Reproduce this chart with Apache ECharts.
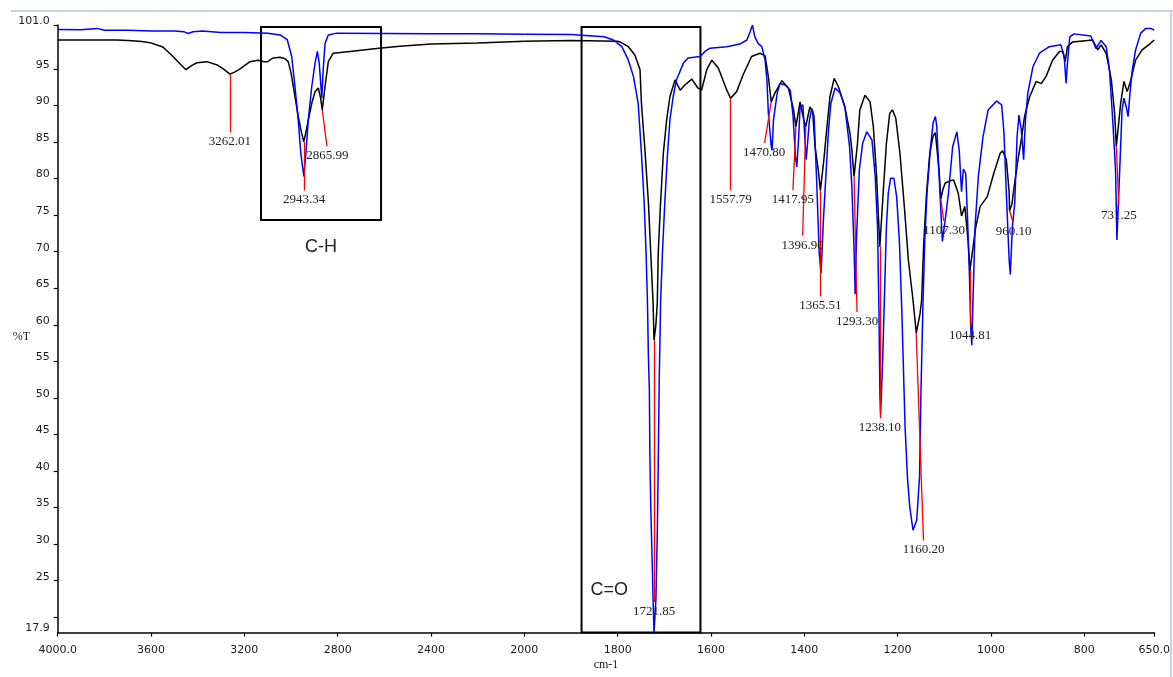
<!DOCTYPE html>
<html><head><meta charset="utf-8">
<script src="https://cdn.jsdelivr.net/npm/echarts@6/dist/echarts.min.js"></script>
<style>html,body{margin:0;padding:0;background:#fff}#c{width:1173px;height:677px}</style>
</head><body><div id="c"></div>
<script>
// ---- data: [wavenumber cm-1, %T] ----
const blackCurve = [
[4000,98.95],[3800,98.95],[3745,98.95],[3740,98.85],[3680,98.85],[3640,98.75],[3604,98.6],[3549,98.0],[3506,96.7],[3470,95.5],[3450,94.9],[3425,95.5],[3403,95.85],[3360,96.0],[3317,95.55],[3290,95.0],[3262,94.3],[3240,94.6],[3218,95.0],[3176,96.0],[3141,96.2],[3115,96.0],[3100,96.0],[3077,96.5],[3047,96.6],[3025,96.4],[3012,96.0],[3000,94.5],[2990,92.6],[2969,88.5],[2955,86.3],[2945,85.05],[2935,86.5],[2926,88.0],[2911,90.3],[2897,91.9],[2883,92.4],[2873,91.0],[2866,89.4],[2854,92.6],[2840,96.0],[2819,97.15],[2747,97.4],[2633,97.8],[2533,98.1],[2400,98.4],[2200,98.55],[2000,98.8],
[1900,98.9],[1800,98.8],[1795,98.7],[1777,98.05],[1763,96.9],[1752,94.9],[1749,90.35],[1741,83.5],[1734,76.7],[1729,69.8],[1724,63.0],[1722,57.9],[1718,60.0],[1715,63.0],[1713,69.8],[1708,76.7],[1702,83.5],[1695,88.0],[1688,91.2],[1677,93.5],[1666,92.1],[1656,92.8],[1641,93.6],[1628,92.4],[1620,92.1],[1609,94.9],[1598,96.2],[1584,95.1],[1566,92.1],[1557.8,91.0],[1545,91.9],[1531,94.2],[1513,96.7],[1495,97.15],[1484,96.8],[1477,93.95],[1470.8,90.5],[1463,91.7],[1448,93.4],[1434,92.4],[1423,89.4],[1418,87.1],[1409,90.5],[1406,90.75],[1401,88.0],[1396.9,87.1],[1388,89.8],[1382,89.2],[1377,84.4],[1370,81.2],[1365.5,78.4],[1358,82.6],[1352,86.7],[1345,91.2],[1336,93.7],[1327,92.6],[1313,89.8],[1302,86.2],[1298,83.9],[1293.3,80.3],[1286,84.8],[1281,89.4],[1270,91.4],[1259,90.5],[1252,87.1],[1245,80.3],[1238.1,70.7],[1231,78.0],[1224,84.8],[1217,88.9],[1211,89.4],[1204,88.3],[1195,83.5],[1185,75.7],[1177,68.9],[1167,63.4],[1160,58.9],[1152,61.5],[1148.5,63.4],[1144,71.2],[1138,78.0],[1131,83.5],[1124,85.8],[1119,86.3],[1111,81.0],[1107.3,77.2],[1103,78.5],[1098,79.4],[1087,79.7],[1080,79.8],[1070,78.0],[1063,74.9],[1056,76.2],[1049,71.5],[1044.8,67.5],[1041,67.5],[1033,73.2],[1023,76.2],[1008,77.5],[994,80.7],[980,83.5],[975,83.8],[967,82.6],[961,78.2],[960.1,75.6],[955,76.5],[950,79.0],[942,82.6],[935,85.3],[928,88.5],[917,91.2],[903,93.3],[892,93.0],[882,93.95],[868,96.2],[853,97.4],[846,97.4],[841,96.0],[836,98.05],[825,98.7],[782,98.96],[771,97.6],[764,98.3],[753,97.15],[742,93.5],[735,89.0],[731.25,84.4],[722,90.3],[715,93.3],[708,91.9],[701,93.3],[690,96.2],[676,97.6],[662,98.3],[650,98.96]
];
const blueCurve = [
[4000,100.4],[3900,100.35],[3831,100.55],[3800,100.3],[3700,100.3],[3600,100.2],[3500,100.2],[3460,100.1],[3441,99.85],[3420,100.1],[3380,100.2],[3300,100.0],[3200,100.0],[3100,99.9],[3047,99.65],[3016,99.0],[2997,96.7],[2983,92.6],[2969,88.0],[2958,83.5],[2945,80.3],[2936,83.5],[2926,88.0],[2911,92.6],[2897,95.8],[2887,97.4],[2879,95.8],[2868,91.0],[2862,94.9],[2854,98.5],[2840,99.65],[2804,99.9],[2600,99.85],[2400,99.8],[2200,99.8],[2000,99.75],
[1900,99.7],[1829,99.4],[1809,98.96],[1791,98.05],[1777,96.2],[1766,93.95],[1756,90.3],[1749,83.5],[1743,76.6],[1739,69.8],[1736,62.9],[1734,55.6],[1732,51.1],[1731,42.9],[1729,35.1],[1726,27.8],[1724,22.4],[1722,17.9],[1721,17.9],[1718,22.4],[1715,31.5],[1713,40.6],[1711,52.0],[1709,58.8],[1708,62.9],[1704,69.8],[1699,76.6],[1693,83.5],[1688,88.0],[1681,91.2],[1674,93.5],[1659,95.8],[1649,96.5],[1623,96.7],[1613,97.4],[1602,97.85],[1566,98.05],[1538,98.4],[1523,98.96],[1516,100.1],[1511,101.0],[1506,99.4],[1499,98.5],[1491,98.05],[1484,96.2],[1480,93.5],[1477,89.0],[1471,84.5],[1469,83.9],[1466,88.0],[1458,91.7],[1452,93.0],[1441,92.8],[1430,92.1],[1424,88.5],[1419,83.0],[1416,81.6],[1412,85.7],[1409,89.8],[1403,90.1],[1401,88.0],[1396,82.6],[1393.5,84.4],[1389,88.0],[1384,89.6],[1379,88.5],[1373,78.9],[1368,69.8],[1364,67.05],[1359,74.35],[1353,81.2],[1348,86.7],[1343,90.3],[1334,92.4],[1323,91.7],[1313,89.8],[1303,84.4],[1298,78.9],[1293,69.8],[1291,64.2],[1288,72.05],[1282,81.2],[1275,84.8],[1266,86.4],[1255,85.3],[1248,80.3],[1243,73.4],[1240,62.0],[1238,50.6],[1236.5,47.7],[1232,55.2],[1227,66.6],[1224,73.4],[1220,78.0],[1215,80.05],[1208,80.05],[1202,77.5],[1196,71.2],[1191,62.0],[1188,55.2],[1184,46.1],[1179,39.2],[1174,35.1],[1167,31.9],[1165,31.7],[1159,33.3],[1153,39.2],[1150,50.6],[1146,62.0],[1142,71.2],[1137,78.0],[1130,83.9],[1124,87.6],[1119,88.5],[1116,87.1],[1111,80.3],[1106,73.9],[1104,71.4],[1098,74.35],[1091,78.0],[1082,84.4],[1073,86.4],[1068,83.9],[1063,78.2],[1059,81.3],[1054,80.7],[1050,74.35],[1046,66.6],[1043,59.3],[1041,57.2],[1038,64.3],[1034,73.4],[1027,80.3],[1017,85.7],[1006,89.4],[988,90.6],[977,90.1],[972,86.2],[967,78.0],[961,68.9],[958.5,66.9],[954,73.4],[949,76.6],[944,85.7],[940,88.7],[935,86.7],[930,82.6],[926,88.0],[921,91.7],[910,95.3],[896,97.15],[875,98.05],[850,98.3],[843,96.7],[839,93.05],[836,95.8],[831,99.4],[822,99.8],[786,99.5],[775,97.8],[764,98.9],[753,98.05],[746,94.9],[739,88.0],[733,81.2],[730,71.6],[724,81.2],[719,89.4],[715,91.0],[710,89.8],[706,88.5],[702,91.7],[697,94.9],[690,97.6],[679,99.9],[668,100.55],[657,100.55],[650,100.3]
];
// picked peaks (red marker lines): label, wavenumber, %T at peak, end of marker line
const peakLabels = ['3262.01','2943.34','2865.99','1721.85','1557.79','1470.80','1417.95','1396.90','1365.51','1293.30','1238.10','1160.20','1107.30','1044.81','960.10','731.25'];
const peakWn     = [3262.01,2943.34,2865.99,1721.85,1557.79,1470.80,1417.95,1396.90,1365.51,1293.30,1238.10,1160.20,1107.30,1044.81,960.10,731.25];
const peakTopT   = [94.3,85.0,89.4,57.9,91.0,90.5,87.1,87.1,78.4,80.3,70.7,58.9,77.1,67.5,75.6,84.4];
const peakEndWn  = [3262.01,2943.34,2846,1721.85,1557.79,1485,1424.4,1403.4,1365.51,1287,1238.1,1144.5,1101,1044.81,953,726];
const peakEndT   = [86.3,78.4,84.45,22.1,78.4,84.9,78.4,72.2,63.9,61.75,47.2,30.5,74.2,59.8,74.1,76.3];
// highlighted regions
const boxLabels = ['C-H','C=O'];
const boxWnFrom = [3128.6,1877.3];
const boxWnTo   = [2614,1622.5];
const boxTTop   = [100.75,100.75];
const boxTBottom= [74.35,17.9];
// axis ticks
const xTicksHigh = [4000,3600,3200,2800,2400];
const xTicksLow  = [2000,1800,1600,1400,1200,1000,800,650];
const yTicks  = [20,25,30,35,40,45,50,55,60,65,70,75,80,85,90,95,101];
const yLabels = [17.9,25,30,35,40,45,50,55,60,65,70,75,80,85,90,95,101];

const TEXT = '#1a1a1a';
const SANS = '"DejaVu Sans", sans-serif';
const SERIF = '"Liberation Serif", serif';
const isHigh = w => w >= 2000;

function xAxis(gi, min, max, ticks) {
  return {
    type: 'value', gridIndex: gi, min: min, max: max, inverse: true,
    axisLine: { show: true, onZero: false, lineStyle: { color: '#000', width: 1.5 } },
    axisTick: { show: true, length: 4, customValues: ticks, lineStyle: { color: '#000', width: 1.2 } },
    axisLabel: { customValues: ticks, margin: 12, fontSize: 11, fontFamily: SANS, color: TEXT,
      formatter: v => (v === 4000 || v === 650) ? v.toFixed(1) : String(v) },
    splitLine: { show: false }
  };
}
function yAxis(gi, show) {
  return {
    type: 'value', gridIndex: gi, min: 17.9, max: 101, show: show,
    axisLine: { show: true, lineStyle: { color: '#000', width: 1.5 } },
    axisTick: { show: true, length: 4, customValues: yTicks, lineStyle: { color: '#000', width: 1.2 } },
    axisLabel: { customValues: yLabels, margin: 8, fontSize: 11, fontFamily: SANS, color: TEXT,
      verticalAlign: 'bottom', lineHeight: 8,
      formatter: v => (v === 101) ? '101.0' : String(v) },
    splitLine: { show: false }
  };
}
function peakLines(high) {
  const out = [];
  peakWn.forEach((w, i) => {
    if (isHigh(w) === high) out.push([
      { coord: [w, peakTopT[i]], name: peakLabels[i] },
      { coord: [peakEndWn[i], peakEndT[i]] }
    ]);
  });
  return out;
}
function peakAnchors(high) {
  return peakWn.map((w, i) => [w, peakTopT[i]]).filter(p => isHigh(p[0]) === high);
}
function boxSeries(gi, idx, labelCfg) {
  return {
    type: 'line', xAxisIndex: gi, yAxisIndex: gi, z: 5, silent: true, symbol: 'none',
    data: [[boxWnFrom[idx], boxTTop[idx]], [boxWnTo[idx], boxTBottom[idx]]],
    lineStyle: { opacity: 0, width: 0 },
    markArea: {
      silent: true,
      itemStyle: { color: 'rgba(0,0,0,0)', borderColor: '#000', borderWidth: 2 },
      label: Object.assign({ show: true, fontSize: 18, fontFamily: '"Liberation Sans", Arial, sans-serif', color: '#222' }, labelCfg),
      emphasis: { disabled: true },
      data: [[{ name: boxLabels[idx], coord: [boxWnFrom[idx], boxTTop[idx]] }, { coord: [boxWnTo[idx], boxTBottom[idx]] }]]
    }
  };
}
function peakSeries(gi, high) {
  return {
    type: 'line', xAxisIndex: gi, yAxisIndex: gi, z: 3, silent: true, symbol: 'none',
    data: peakAnchors(high), lineStyle: { opacity: 0, width: 0 },
    markLine: {
      silent: true, symbol: ['none', 'none'], animation: false,
      lineStyle: { color: '#ff0000', width: 1.3, type: 'solid' },
      label: { show: true, position: 'end', distance: 3, formatter: '{b}', fontSize: 13, fontFamily: SERIF, color: '#222' },
      emphasis: { disabled: true },
      data: peakLines(high)
    }
  };
}
function curve(gi, data, color, z) {
  return { type: 'line', xAxisIndex: gi, yAxisIndex: gi, data: data, symbol: 'none', z: z, silent: true,
    lineStyle: { color: color, width: 1.5 }, itemStyle: { color: color } };
}

const option = {
  backgroundColor: '#fff',
  animation: false,
  grid: [
    { left: 57.7, top: 25.1, width: 466.6, height: 607.5 },
    { left: 524.3, top: 25.1, width: 631.4, height: 607.5 }
  ],
  xAxis: [ xAxis(0, 2000, 4000, xTicksHigh), xAxis(1, 650, 2000, xTicksLow) ],
  yAxis: [ yAxis(0, true), yAxis(1, false) ],
  series: [
    curve(0, blackCurve.filter(p => p[0] >= 2000), '#000000', 2),
    peakSeries(0, true),
    curve(0, blueCurve.filter(p => p[0] >= 2000), '#0000ff', 4),
    boxSeries(0, 0, { position: 'bottom', distance: 17 }),
    curve(1, blackCurve.filter(p => p[0] <= 2000), '#000000', 2),
    peakSeries(1, false),
    curve(1, blueCurve.filter(p => p[0] <= 2000), '#0000ff', 4),
    boxSeries(1, 1, { position: 'insideBottomLeft', distance: 5, offset: [5, -30] })
  ],
  graphic: [
    { type: 'line', silent: true, shape: { x1: 11, y1: 11, x2: 1173, y2: 11 }, style: { stroke: '#c8d4e8', lineWidth: 2 } },
    { type: 'line', silent: true, shape: { x1: 1171, y1: 11, x2: 1171, y2: 677 }, style: { stroke: '#c8d4e8', lineWidth: 2 } },
    { type: 'text', x: 30, y: 336.5, style: { text: '%T', align: 'right', verticalAlign: 'middle', font: '12px "Liberation Serif", serif', fill: TEXT } },
    { type: 'text', x: 606, y: 665, style: { text: 'cm-1', align: 'center', verticalAlign: 'middle', font: '12px "Liberation Serif", serif', fill: TEXT } }
  ]
};
const chart = echarts.init(document.getElementById('c'), null, { renderer: 'canvas' });
chart.setOption(option);
</script>
</body></html>
